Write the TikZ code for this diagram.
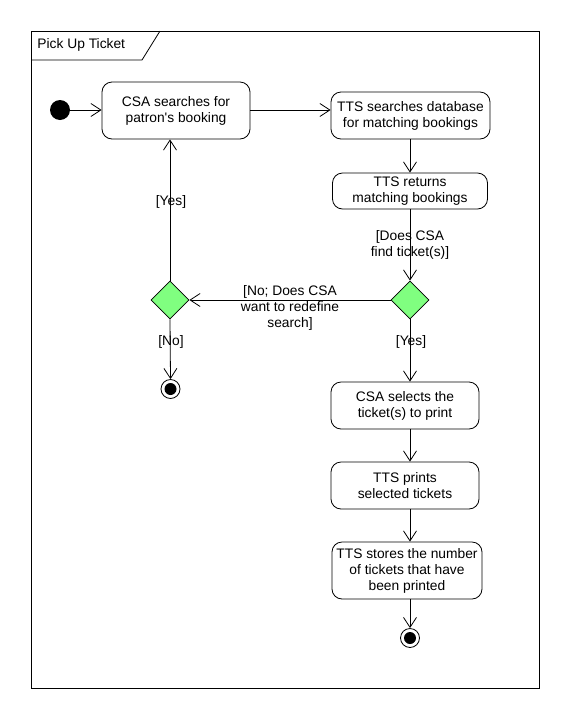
\documentclass[tikz,border=0pt]{standalone}
\usepackage{fontspec}
\setmainfont{Liberation Sans}
\usepackage{tikz}
\usetikzlibrary{positioning,shapes.geometric,arrows.meta}

\definecolor{decgreen}{RGB}{128,255,128}

\tikzset{
  action/.style={draw, rounded corners=10pt, align=center, inner sep=0pt,
    font=\fontsize{13.8}{16}\selectfont},
  decision/.style={diamond, draw, fill=decgreen, minimum width=38pt,
    minimum height=38pt, inner sep=0pt},
  startnode/.style={circle, fill=black, minimum size=20pt, inner sep=0pt},
  endnode/.style={circle, draw, fill=white, minimum size=19pt, inner sep=0pt,
    path picture={\fill[black] (path picture bounding box.center) circle (6pt);}},
  guard/.style={align=center, font=\fontsize{13.8}{16}\selectfont, inner sep=0pt},
  flow/.style={-{Straight Barb[length=10pt,width=13pt]}}
}

\begin{document}
\begin{tikzpicture}[x=1pt,y=-1pt,line width=0.8pt]
\useasboundingbox (0,0) rectangle (560,710);

% frame
\draw (31,31) rectangle (539,688);
\draw (31,60) -- (142,60) -- (160,31);
\node[guard,anchor=west] (title) at (37,45) {Pick Up Ticket};

% nodes
\node[startnode] (start) at (60,110) {};
\node[action,minimum width=148pt,minimum height=57pt] (a1) at (176,110.5)
  {CSA searches for\\patron\textquotesingle s booking};
\node[action,minimum width=159pt,minimum height=47pt] (a2) at (410.5,115.5)
  {TTS searches database\\for matching bookings};
\node[action,minimum width=155pt,minimum height=36pt] (a3) at (410,191)
  {TTS returns\\matching bookings};
\node[decision] (d1) at (410,300) {};
\node[decision] (d2) at (170,300) {};
\node[endnode] (endL) at (170.5,389) {};
\node[action,minimum width=148pt,minimum height=47pt] (a4) at (405,405.5)
  {CSA selects the\\ticket(s) to print};
\node[action,minimum width=148pt,minimum height=47pt] (a5) at (405,485.5)
  {TTS prints\\selected tickets};
\node[action,minimum width=150pt,minimum height=57pt] (a6) at (407,570.5)
  {TTS stores the number\\of tickets that have\\been printed};
\node[endnode] (endB) at (410,638) {};

% flows
\draw[flow] (start) -- (a1.west |- start);
\draw[flow] (a1.east |- start) -- (a2.west |- start);
\draw[flow] (a2.south -| d1) -- (a3.north -| d1);
\draw[flow] (a3.south -| d1) -- (d1.north);
\draw[flow] (d1.west) -- (d2.east);
\draw[flow] (d2.north) -- (d2.north |- a1.south);
\draw[flow] (d2.south) -- (endL.north);
\draw[flow] (d1.south) -- (a4.north -| d1);
\draw[flow] (a4.south -| d1) -- (a5.north -| d1);
\draw[flow] (a5.south -| d1) -- (a6.north -| d1);
\draw[flow] (a6.south -| d1) -- (endB.north);

% guards
\node[guard] (gfind) at (410,245) {[Does CSA\\find ticket(s)]};
\node[guard] (gredo) at (290,308) {[No; Does CSA\\want to redefine\\search]};
\node[guard] (gno) at (171,342) {[No]};
\node[guard] (gyes1) at (411,342) {[Yes]};
\node[guard] (gyes2) at (171,202) {[Yes]};
\end{tikzpicture}
\end{document}
